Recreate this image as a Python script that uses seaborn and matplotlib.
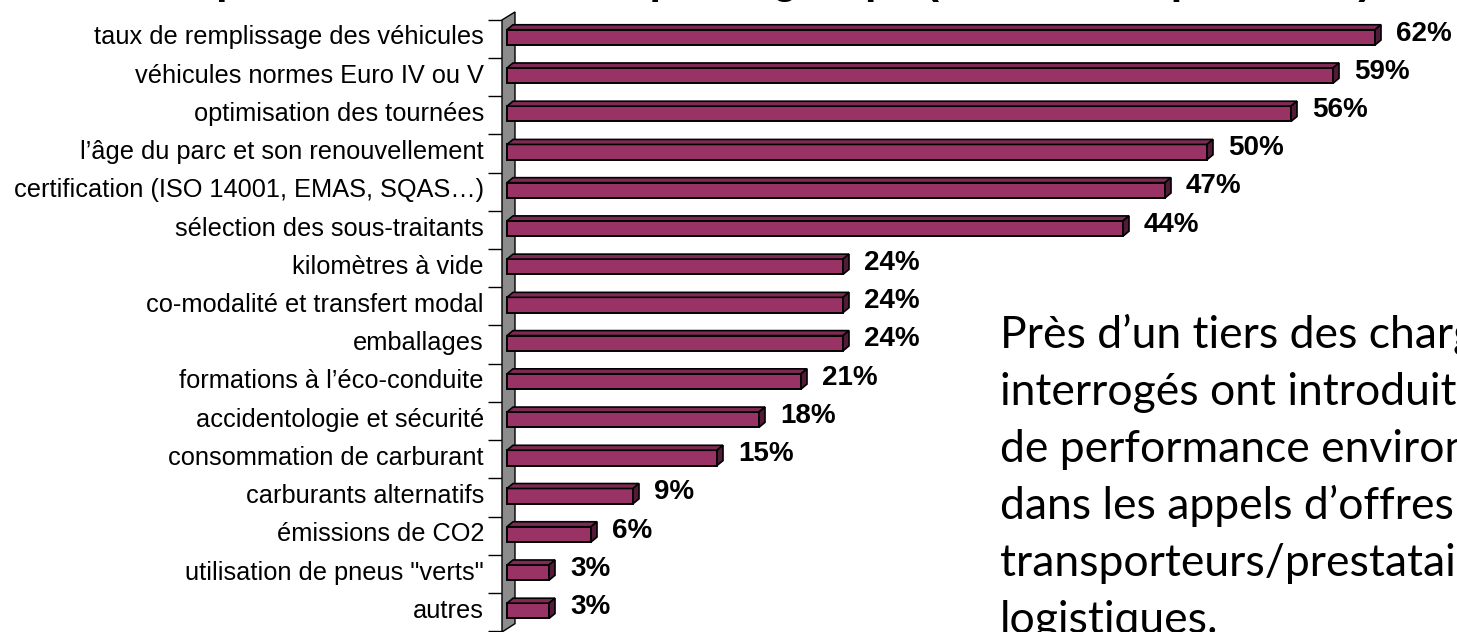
import numpy as np
import matplotlib
matplotlib.use("Agg")
import matplotlib.pyplot as plt
from matplotlib.patches import Polygon
import seaborn as sns
import pandas as pd

# Survey results: share of respondents citing each criterion
categories = [
    "taux de remplissage des véhicules",
    "véhicules normes Euro IV ou V",
    "optimisation des tournées",
    "l’âge du parc et son renouvellement",
    "certification (ISO 14001, EMAS, SQAS…)",
    "sélection des sous-traitants",
    "kilomètres à vide",
    "co-modalité et transfert modal",
    "emballages",
    "formations à l’éco-conduite",
    "accidentologie et sécurité",
    "consommation de carburant",
    "carburants alternatifs",
    "émissions de CO2",
    "utilisation de pneus \"verts\"",
    "autres",
]
values = [62, 59, 56, 50, 47, 44, 24, 24, 24, 21, 18, 15, 9, 6, 3, 3]
value_labels = [f"{v}%" for v in values]

title_text = "Critères pris en considération par le groupe (en % des répondants)"
note_lines = [
    "Près d’un tiers des chargeurs",
    "interrogés ont introduit des critères",
    "de performance environnementale",
    "dans les appels d’offres aux",
    "transporteurs/prestataires",
    "logistiques.",
]

df = pd.DataFrame({"critere": categories, "part": values})

sns.set_theme(style="white")
plt.rcParams["font.family"] = ["Liberation Sans", "DejaVu Sans"]

W, H = 1457, 632
fig = plt.figure(figsize=(W / 100, H / 100), dpi=100)
fig.patch.set_facecolor("white")

# axes placed in pixel terms: 14 px per percent, ~38.5 px per row
px_per_pct = 14.0
row_px = 38.47
x_left_px = 502
x_min = -5 / px_per_pct
x_max = 65.5
top_px = 35 - row_px / 2
bot_px = 35 + row_px * 15.5
ax = fig.add_axes([
    x_left_px / W,
    1 - bot_px / H,
    (x_max - x_min) * px_per_pct / W,
    (bot_px - top_px) / H,
])

front = "#993366"
top_col = "#7f2a55"
side_col = "#521b38"

sns.barplot(data=df, x="part", y="critere", orient="h", color=front,
            width=0.4, edgecolor="black", linewidth=1.4, saturation=1,
            ax=ax, zorder=3)

ax.set_xlim(x_min, x_max)
ax.set_ylim(15.5, -0.5)

# grey floor strip along the category axis
wall_dx = 13 / px_per_pct
wall = Polygon([(x_min, 15.62), (x_min, -0.39), (x_min + wall_dx, -0.60),
                (x_min + wall_dx, 15.40)], closed=True,
               facecolor="#8c8c8c", edgecolor="black", linewidth=1.0,
               clip_on=False, zorder=1)
ax.add_patch(wall)

# depth faces for each bar
dx = 6 / px_per_pct
dy = 5 / row_px
for patch, v, lab in zip(ax.patches[:len(values)], values, value_labels):
    patch.set_y(patch.get_y() + 0.065)
    y0 = patch.get_y()
    y1 = y0 + patch.get_height()
    x0 = patch.get_x()
    x1 = x0 + patch.get_width()
    ax.add_patch(Polygon([(x0, y0), (x1, y0), (x1 + dx, y0 - dy), (x0 + dx, y0 - dy)],
                         closed=True, facecolor=top_col, edgecolor="black",
                         linewidth=1.2, zorder=4, clip_on=False))
    ax.add_patch(Polygon([(x1, y0), (x1 + dx, y0 - dy), (x1 + dx, y1 - dy), (x1, y1)],
                         closed=True, facecolor=side_col, edgecolor="black",
                         linewidth=1.2, zorder=4, clip_on=False))
    ax.text(x1 + 1.5, (y0 + y1) / 2 - 0.1, lab, ha="left", va="center",
            fontsize=20, fontweight="bold", color="black",
            clip_on=False, zorder=5)

# category labels with boundary tick marks
ax.set_xlabel("")
ax.set_ylabel("")
ax.set_xticks([])
ax.set_yticks(range(len(categories)))
ax.set_yticklabels(categories, fontsize=18.3, color="black")
ax.set_yticks(np.arange(len(categories) + 1) - 0.4, minor=True)
ax.tick_params(axis="y", which="major", length=0, pad=13)
ax.tick_params(axis="y", which="minor", length=10, width=1.0, color="black",
               left=True)
for s in ax.spines.values():
    s.set_visible(False)
ax.set_facecolor("none")

# title, almost entirely above the visible area
fig.text(1372 / W, 1 + 7 / H, title_text, ha="right", va="baseline",
         fontsize=30, fontweight="bold", color="black")

# commentary text box on the right
for i, line in enumerate(note_lines):
    fig.text(1000 / W, 1 - (348 + 57 * i) / H, line, ha="left",
             va="baseline", fontsize=32, color="black", family=["Lato", "DejaVu Sans"])

fig.savefig("out.png", dpi=100, facecolor="white")
